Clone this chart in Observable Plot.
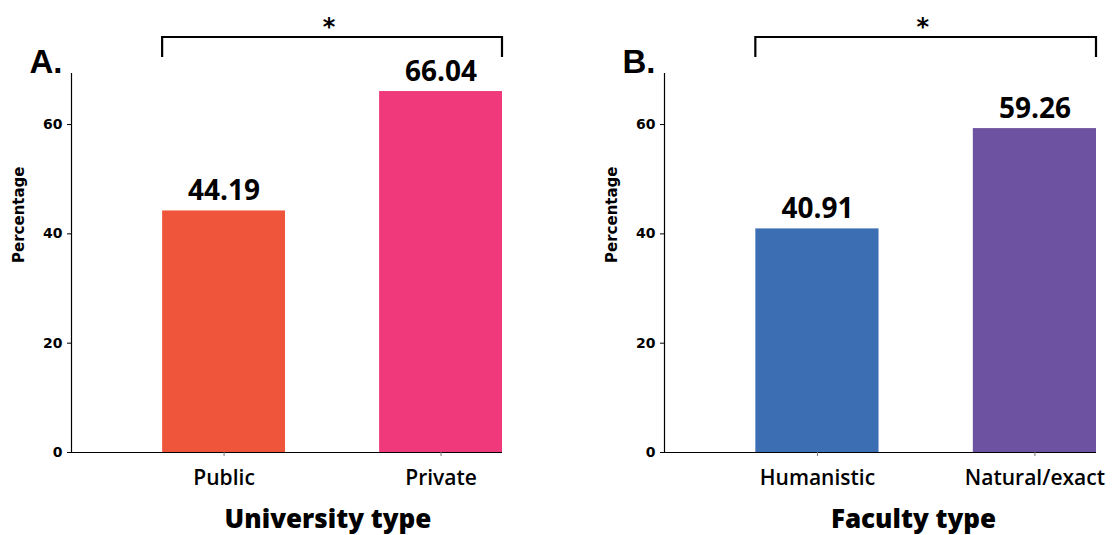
<!DOCTYPE html>
<html><head><meta charset="utf-8">
<script src="https://cdn.jsdelivr.net/npm/d3@7"></script>
<script src="https://cdn.jsdelivr.net/npm/@observablehq/plot@0.6"></script>
<style>
body{margin:0;background:#fff}
#wrap{position:relative;width:1115px;height:535px;overflow:hidden}
.panel{position:absolute;top:0}
</style>
</head><body><div id="wrap"></div>
<script>
// ---- data ----
const universityTypes = ["Public", "Private"];
const universityValues = [44.19, 66.04];
const universityColors = ["#EF553B", "#F0397B"];
const facultyTypes = ["Humanistic", "Natural/exact"];
const facultyValues = [40.91, 59.26];
const facultyColors = ["#3C6EB4", "#6C52A0"];
const yTicks = [0, 20, 40, 60];
const yMax = 69.34;

function panel({cats, vals, colors, letter, title, width, marginRight, left, titleDx}) {
  const data = cats.map((c, i) => ({cat: c, value: vals[i]}));
  const marginLeft = 71, marginTop = 73, marginBottom = 83, height = 535;
  const pi = 0.4336, po = 0.21;
  const chart = Plot.plot({
    width, height, marginLeft, marginRight, marginTop, marginBottom,
    style: {background: "white", overflow: "visible", fontFamily: "DejaVu Sans"},
    x: {domain: cats, paddingInner: pi, paddingOuter: po, align: 1, round: false},
    y: {domain: [0, yMax]},
    color: {domain: cats, range: colors},
    marks: [
      Plot.barY(data, {x: "cat", y: "value", fill: "cat"}),
      Plot.frame({anchor: "left", stroke: "black", strokeOpacity: 1, strokeWidth: 1.2}),
      Plot.ruleY([0], {stroke: "black", strokeWidth: 1.2}),
      Plot.axisY(yTicks, {tickSize: 4, tickPadding: 5, fontSize: 14, fontWeight: "bold", label: null, fontFamily: "DejaVu Sans"}),
      Plot.axisX({tickSize: 4, tickPadding: 14, fontSize: 21, fontWeight: 600, fontFamily: "Open Sans", label: null, stroke: "#777", fill: "black"}),
      Plot.text(data, {x: "cat", y: "value", text: d => d.value.toFixed(2), lineAnchor: "bottom", dy: -11, fontSize: 28, fontWeight: 700, fontFamily: "Open Sans", fill: "black"}),
      Plot.text(["Percentage"], {frameAnchor: "left", rotate: -90, dx: -52, fontSize: 15, fontWeight: "bold", fontFamily: "DejaVu Sans"}),
      Plot.text([title], {frameAnchor: "bottom", lineAnchor: "bottom", dx: titleDx, dy: 75, fontSize: 26, fontWeight: 800, fontFamily: "Open Sans"}),
      Plot.text([letter], {frameAnchor: "top-left", textAnchor: "end", lineAnchor: "bottom", dx: -9, dy: -1, fontSize: 33, fontWeight: "bold", fontFamily: "Liberation Sans"})
    ]
  });
  // significance bracket drawn from the chart's own scales
  const xs = chart.scale("x"), ys = chart.scale("y");
  const x0 = xs.apply(cats[0]);
  const x1 = xs.apply(cats[cats.length - 1]) + xs.bandwidth;
  const yTop = ys.apply(yMax) - 36;
  const svg = d3.select(chart);
  svg.append("path")
    .attr("d", `M${x0},${yTop + 20}V${yTop}H${x1}V${yTop + 20}`)
    .attr("fill", "none").attr("stroke", "black").attr("stroke-width", 2.2);
  svg.append("text")
    .attr("x", (x0 + x1) / 2 - 3).attr("y", yTop - 2)
    .attr("text-anchor", "middle")
    .attr("font-family", "DejaVu Sans").attr("font-weight", "bold").attr("font-size", 24)
    .text("*");
  chart.classList.add("panel");
  chart.style.left = left + "px";
  return chart;
}

const wrap = document.getElementById("wrap");
wrap.append(panel({cats: universityTypes, vals: universityValues, colors: universityColors,
  letter: "A.", title: "University type", width: 560, marginRight: 58, left: 0, titleDx: 41}));
wrap.append(panel({cats: facultyTypes, vals: facultyValues, colors: facultyColors,
  letter: "B.", title: "Faculty type", width: 522, marginRight: 19, left: 593, titleDx: 33}));
</script>
</body></html>
